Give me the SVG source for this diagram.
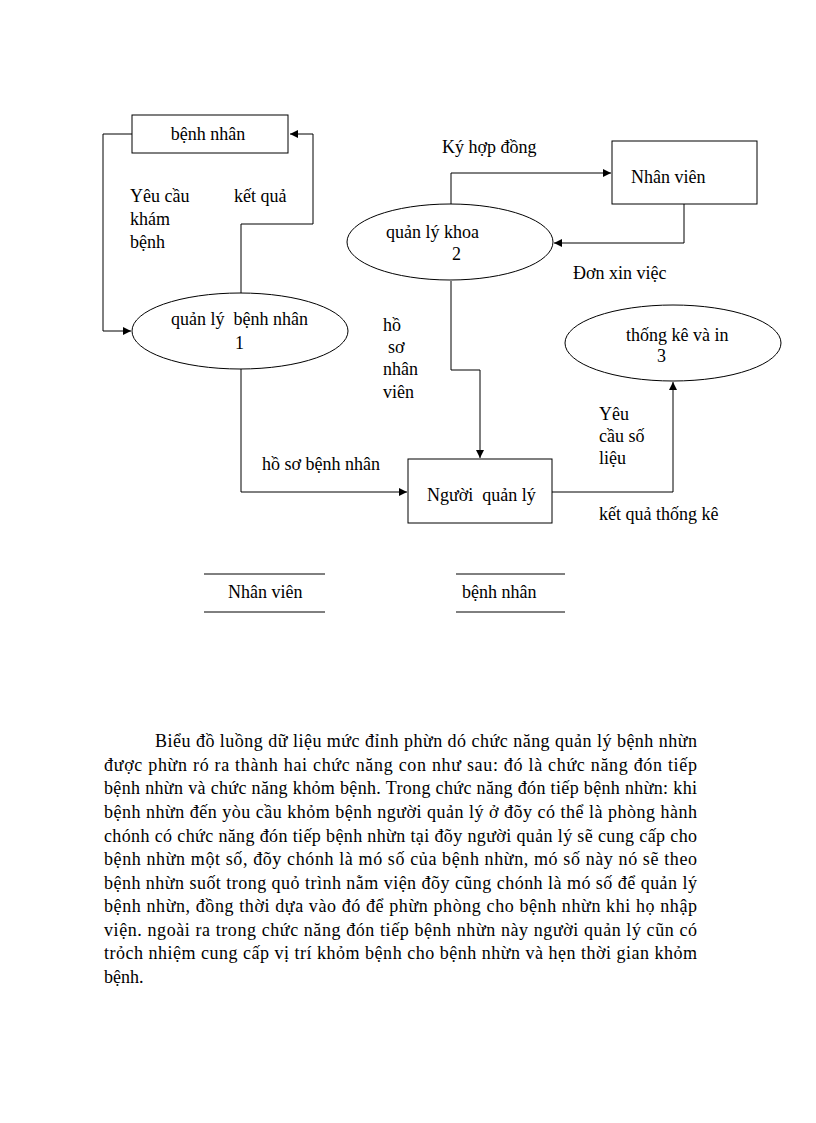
<svg xmlns="http://www.w3.org/2000/svg" width="816" height="1123" viewBox="0 0 816 1123" font-family="'Liberation Serif', 'Times New Roman', Times, serif" font-size="18">
<style>
text{font-family:'Liberation Serif','Times New Roman',Times,serif;font-size:18px;fill:#000}
.s{fill:#fff;stroke:#000;stroke-width:1}
.c{fill:none;stroke:#000;stroke-width:1}
</style>
<defs>
<marker id="a" viewBox="0 0 10 10" refX="10" refY="5" markerWidth="8" markerHeight="8" markerUnits="userSpaceOnUse" orient="auto">
<path d="M0,0 L10,5 L0,10 z" fill="#000"/>
</marker>
</defs>
<rect width="816" height="1123" fill="#fff"/>
<g id="connectors">
<path class="c" d="M132,134 H103 V331 H131" marker-end="url(#a)"/>
<path class="c" d="M241,293 V224 H313 V134 H290" marker-end="url(#a)"/>
<path class="c" d="M451,204 V173 H611" marker-end="url(#a)"/>
<path class="c" d="M684,204 V243 H554" marker-end="url(#a)"/>
<path class="c" d="M451,281 V370 H480 V458" marker-end="url(#a)"/>
<path class="c" d="M241,369 V492 H407" marker-end="url(#a)"/>
<path class="c" d="M552,492 H673 V382" marker-end="url(#a)"/>
</g>
<g id="benhnhan">
<rect class="s" x="132" y="115" width="156" height="38"/>
<text x="208" y="140" text-anchor="middle">bệnh nhân</text>
</g>
<g id="p1">
<ellipse class="s" cx="240" cy="331" rx="108" ry="38"/>
<text x="171" y="325" xml:space="preserve">quản lý  bệnh nhân</text>
<text x="235" y="349">1</text>
</g>
<g id="p2">
<ellipse class="s" cx="450" cy="242" rx="103" ry="38"/>
<text x="386" y="238">quản lý khoa</text>
<text x="452" y="260">2</text>
</g>
<g id="nhanvien">
<rect class="s" x="612" y="141" width="145" height="63"/>
<text x="631" y="183">Nhân viên</text>
</g>
<g id="p3">
<ellipse class="s" cx="673" cy="343" rx="108" ry="38"/>
<text x="626" y="341">thống kê và in</text>
<text x="657" y="362">3</text>
</g>
<g id="nguoiquanly">
<rect class="s" x="408" y="459" width="144" height="64"/>
<text x="427" y="501" xml:space="preserve">Người  quản lý</text>
</g>
<g id="store-nhanvien">
<line class="c" x1="204" y1="574" x2="325" y2="574"/>
<line class="c" x1="204" y1="612" x2="325" y2="612"/>
<text x="228" y="598">Nhân viên</text>
</g>
<g id="store-benhnhan">
<line class="c" x1="456" y1="574" x2="565" y2="574"/>
<line class="c" x1="456" y1="612" x2="565" y2="612"/>
<text x="462" y="598">bệnh nhân</text>
</g>
<g id="labels">
<text x="130" y="202">Yêu cầu</text>
<text x="130" y="225">khám</text>
<text x="130" y="248">bệnh</text>
<text x="234" y="202">kết quả</text>
<text x="442" y="153">Ký hợp đồng</text>
<text x="573" y="279">Đơn xin việc</text>
<text x="383" y="331">hồ</text>
<text x="388" y="353">sơ</text>
<text x="383" y="375">nhân</text>
<text x="383" y="398">viên</text>
<text x="262" y="470">hồ sơ bệnh nhân</text>
<text x="599" y="420">Yêu</text>
<text x="599" y="442">cầu số</text>
<text x="599" y="464">liệu</text>
<text x="599" y="520">kết quả thống kê</text>
</g>
<g id="paragraph">
<text x="155" y="747" textLength="542" lengthAdjust="spacing">Biểu đồ luồng dữ liệu mức đỉnh phừn dó chức năng quản lý bệnh nhừn</text>
<text x="104" y="771" textLength="593" lengthAdjust="spacing">được phừn ró ra thành hai chức năng con như sau: đó là chức năng đón tiếp</text>
<text x="104" y="794" textLength="593" lengthAdjust="spacing">bệnh nhừn và chức năng khỏm bệnh. Trong chức năng đón tiếp bệnh nhừn: khi</text>
<text x="104" y="818" textLength="593" lengthAdjust="spacing">bệnh nhừn đến yòu cầu khỏm bệnh người quản lý ở đõy có thể là phòng hành</text>
<text x="104" y="842" textLength="593" lengthAdjust="spacing">chónh có chức năng đón tiếp bệnh nhừn tại đõy người quản lý sẽ cung cấp cho</text>
<text x="104" y="865" textLength="593" lengthAdjust="spacing">bệnh nhừn một số, đõy chónh là mó số của bệnh nhừn, mó số này nó sẽ theo</text>
<text x="104" y="889" textLength="593" lengthAdjust="spacing">bệnh nhừn suốt trong quỏ trình nằm viện đõy cũng chónh là mó số để quản lý</text>
<text x="104" y="912" textLength="593" lengthAdjust="spacing">bệnh nhừn, đồng thời dựa vào đó để phừn phòng cho bệnh nhừn khi họ nhập</text>
<text x="104" y="936" textLength="593" lengthAdjust="spacing">viện. ngoài ra trong chức năng đón tiếp bệnh nhừn này người quản lý cũn có</text>
<text x="104" y="959" textLength="593" lengthAdjust="spacing">trỏch nhiệm cung cấp vị trí khỏm bệnh cho bệnh nhừn và hẹn thời gian khỏm</text>
<text x="104" y="983">bệnh.</text>
</g>
</svg>
